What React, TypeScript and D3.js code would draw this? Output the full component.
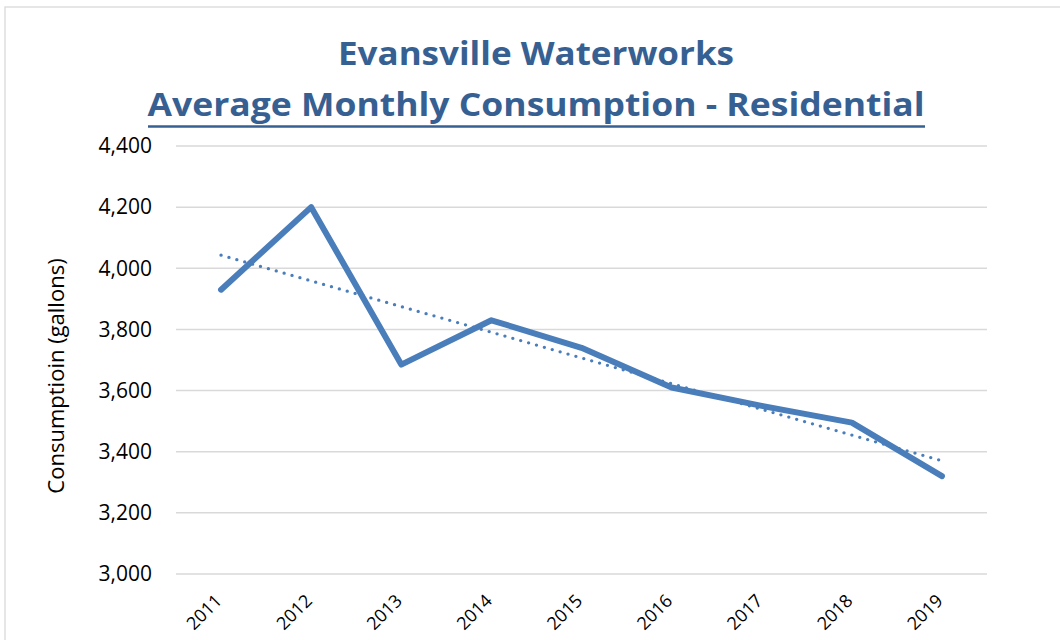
import React from 'react';
import * as d3 from 'd3';

const years = ['2011', '2012', '2013', '2014', '2015', '2016', '2017', '2018', '2019'];
const consumption = [3930, 4200, 3685, 3830, 3740, 3610, 3550, 3495, 3320];
const yTicks = [3000, 3200, 3400, 3600, 3800, 4000, 4200, 4400];

const titleLine1 = 'Evansville Waterworks';
const titleLine2 = 'Average Monthly Consumption - Residential';
const yLabel = 'Consumptioin (gallons)';

const W = 1060;
const H = 640;
const plot = { left: 176, right: 987, top: 146, bottom: 574 };
const font = '"Open Sans", "DejaVu Sans", sans-serif';
const titleColor = '#376092';
const lineColor = '#4a7ebb';

// least squares fit over the category index, like Excel's linear trendline
function linearTrend(values: number[]) {
  const xs = values.map((_, i) => i + 1);
  const mx = d3.mean(xs) as number;
  const my = d3.mean(values) as number;
  const sxy = d3.sum(xs, (x, i) => (x - mx) * (values[i] - my));
  const sxx = d3.sum(xs, x => (x - mx) * (x - mx));
  const slope = sxy / sxx;
  return xs.map(x => my + slope * (x - mx));
}

export default function App() {
  const x = d3.scaleBand<string>().domain(years).range([plot.left, plot.right]);
  const y = d3.scaleLinear().domain([3000, 4400]).range([plot.bottom, plot.top]);
  const cx = (yr: string) => (x(yr) as number) + x.bandwidth() / 2;

  const line = d3.line<number>()
    .x((_, i) => cx(years[i]))
    .y(d => y(d));

  const trend = linearTrend(consumption);
  const fmt = d3.format(',');

  return (
    <svg width={W} height={H} style={{ position: 'absolute', left: 0, top: 0, background: '#fff' }}>
      <rect x={5} y={7} width={W + 20} height={H + 20} fill="#fff" stroke="#d9d9d9" strokeWidth={1.3} />

      <text x={536} y={65} textAnchor="middle" fontFamily={font} fontWeight={700} fontSize={32}
        fill={titleColor} textLength={396} lengthAdjust="spacingAndGlyphs">{titleLine1}</text>
      <text x={536} y={115.5} textAnchor="middle" fontFamily={font} fontWeight={700} fontSize={32}
        fill={titleColor} textLength={777} lengthAdjust="spacingAndGlyphs">{titleLine2}</text>
      <line x1={148} x2={925} y1={126.5} y2={126.5} stroke={titleColor} strokeWidth={2.5} />

      {yTicks.map(t => (
        <g key={t}>
          <line x1={plot.left} x2={plot.right} y1={y(t)} y2={y(t)} stroke="#d9d9d9" strokeWidth={1.5} />
          <text x={152} y={y(t)} dy="0.35em" textAnchor="end" fontFamily={font} fontSize={21} fill="#000">
            {fmt(t)}
          </text>
        </g>
      ))}

      <text transform={`translate(64, 376) rotate(-90)`} textAnchor="middle" fontFamily={font}
        fontSize={22} fill="#000">{yLabel}</text>

      {years.map(yr => (
        <text key={yr} transform={`translate(${cx(yr) + 2}, 602) rotate(-45)`} textAnchor="end"
          fontFamily={font} fontSize={18} fill="#000">{yr}</text>
      ))}

      <path d={line(trend) ?? ''} fill="none" stroke={lineColor} strokeWidth={3.4}
        strokeDasharray="0 8.2" strokeLinecap="round" />
      <path d={line(consumption) ?? ''} fill="none" stroke={lineColor} strokeWidth={6}
        strokeLinejoin="round" strokeLinecap="round" />
    </svg>
  );
}
